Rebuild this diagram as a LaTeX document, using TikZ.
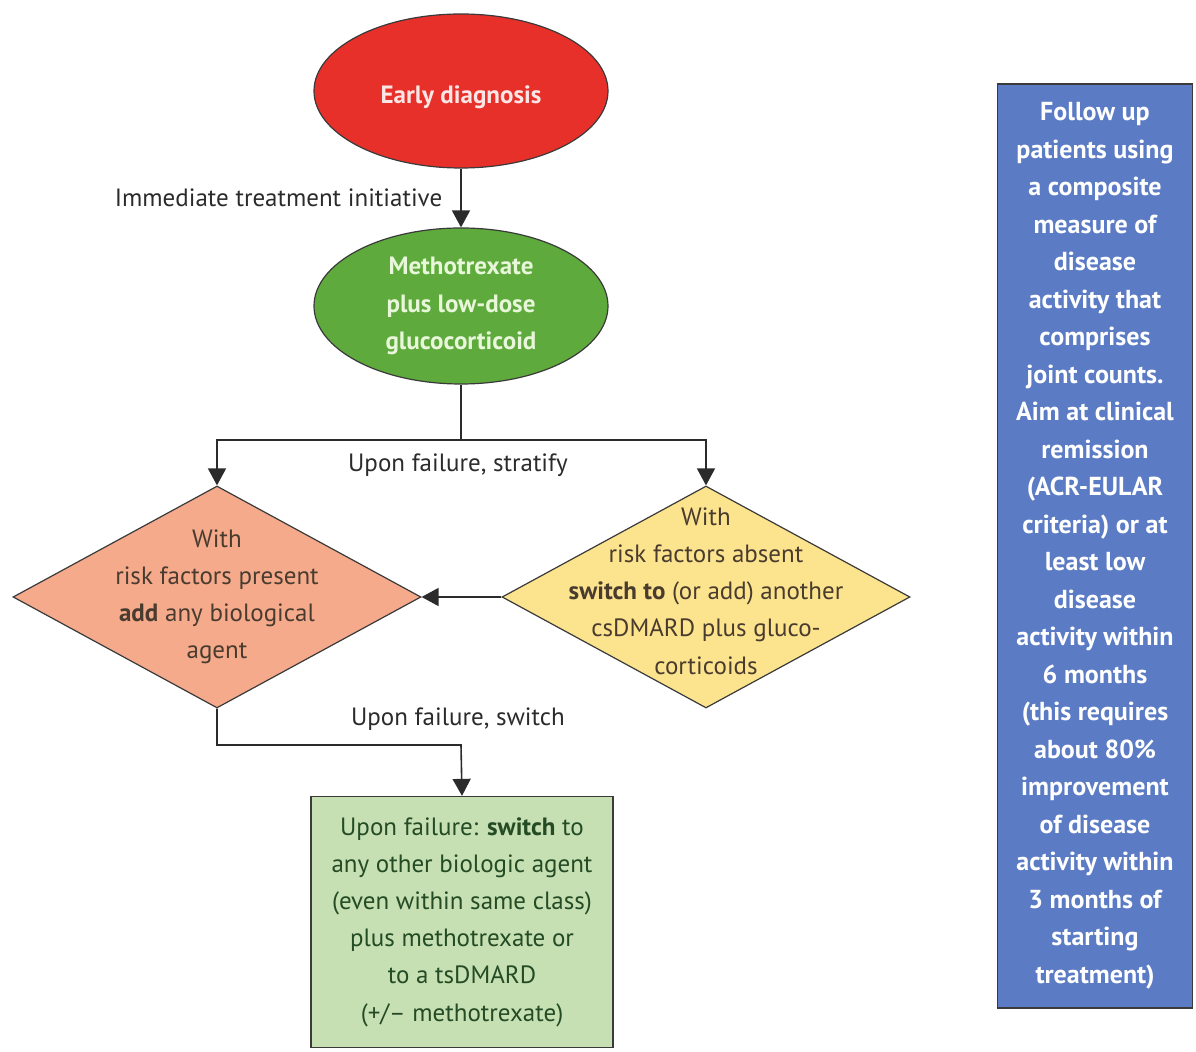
\documentclass[tikz,border=0pt]{standalone}
\usepackage{fontspec}
\setmainfont{PT Sans}
\usetikzlibrary{positioning,arrows.meta,shapes.geometric}
\definecolor{diagred}{HTML}{E8302A}
\definecolor{redtext}{HTML}{FBE6E6}
\definecolor{diaggreen}{HTML}{5EAA3C}
\definecolor{greentext}{HTML}{E8F6DA}
\definecolor{salmon}{HTML}{F5AA8C}
\definecolor{sand}{HTML}{FCE38E}
\definecolor{pale}{HTML}{C6E0B4}
\definecolor{slate}{HTML}{5B7BC5}
\definecolor{ink}{HTML}{2B2B2B}
\definecolor{edge}{HTML}{3A3A3A}
\tikzset{
  base/.style={draw=edge, line width=0.6pt, inner sep=0pt, align=center,
    font=\fontsize{12.5}{18.6}\selectfont},
  oval/.style={base, ellipse, minimum width=147pt, font=\fontsize{12.5}{18.6}\selectfont\bfseries},
  dia/.style={base, diamond, minimum width=204pt, minimum height=111pt},
  diatext/.style={align=center, inner sep=0pt, text=ink!80!brown, font=\fontsize{12.5}{18.6}\selectfont},
  panel/.style={base, rectangle, text=ink!85!green},
  lbl/.style={inner sep=0pt, text=ink, font=\fontsize{12.5}{18.6}\selectfont}
}
\begin{document}
\begin{tikzpicture}[x=0.5pt, y=-0.5pt, >={Triangle[length=8.5pt,width=9pt]}, line width=0.8pt]
  \useasboundingbox (0,0) rectangle (1196,1052);
  % main column
  \node[oval, fill=diagred, text=redtext, minimum height=77pt, label={[text=redtext, font=\fontsize{12.5}{18.6}\selectfont\bfseries, yshift=-3pt]center:Early diagnosis}] (early) at (461,91) {};
  \node[oval, fill=diaggreen, text=greentext, minimum height=78pt] (mtx) at (461,306)
    {Methotrexate\\plus low-dose\\glucocorticoid};
  \node[dia, fill=salmon, label={[diatext]center:{With\\risk factors present\\\textbf{add} any biological\\agent}}]
    (present) at (217,597) {};
  \node[dia, fill=sand, label={[diatext, yshift=3pt]center:{With\\risk factors absent\\\textbf{switch to} (or add) another\\csDMARD plus gluco-\\corticoids}}]
    (absent) at (706,597) {};
  \node[panel, fill=pale, minimum width=151pt, minimum height=125.5pt] (other) at (462,922)
    {Upon failure: \textbf{switch} to\\any other biologic agent\\(even within same class)\\plus methotrexate or\\to a tsDMARD\\(+/-- methotrexate)};
  % side note
  \node[base, fill=slate, text=white, minimum width=97.5pt, minimum height=462pt,
    font=\fontsize{13}{18.75}\selectfont\bfseries] (followup) at (1095,546)
    {Follow up\\patients using\\a composite\\measure of\\disease\\activity that\\comprises\\joint counts.\\Aim at clinical\\remission\\(ACR-EULAR\\criteria) or at\\least low\\disease\\activity within\\6 months\\(this requires\\about 80\%\\improvement\\of disease\\activity within\\3 months of\\starting\\treatment)};
  % connectors
  \coordinate (fork) at (461,440);
  \coordinate (bend) at (461,745);
  \draw[->, ink] (early) -- node[lbl, left=9pt] {Immediate treatment initiative} (mtx);
  \draw[ink] (mtx.south) -- (fork);
  \draw[->, ink] (fork) -| (present.north);
  \draw[->, ink] (fork) -| (absent.north);
  \node[lbl] (stratify) at (458,465) {Upon failure, stratify};
  \draw[->, ink] (absent.west) -- (present.east);
  \draw[->, ink] (present.south) |- (bend) -- (other.north);
  \node[lbl] (switch) at (458,719) {Upon failure, switch};
\end{tikzpicture}
\end{document}
